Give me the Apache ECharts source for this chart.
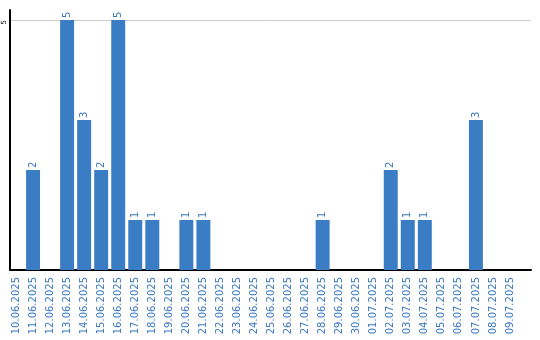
<!DOCTYPE html>
<html><head><meta charset="utf-8">
<script src="https://cdn.jsdelivr.net/npm/echarts@6/dist/echarts.min.js"></script>
<style>html,body{margin:0;padding:0;background:#fff}#c{width:540px;height:340px}</style>
</head><body><div id="c"></div>
<script>
const categories = ["10.06.2025","11.06.2025","12.06.2025","13.06.2025","14.06.2025","15.06.2025","16.06.2025","17.06.2025","18.06.2025","19.06.2025","20.06.2025","21.06.2025","22.06.2025","23.06.2025","24.06.2025","25.06.2025","26.06.2025","27.06.2025","28.06.2025","29.06.2025","30.06.2025","01.07.2025","02.07.2025","03.07.2025","04.07.2025","05.07.2025","06.07.2025","07.07.2025","08.07.2025","09.07.2025"];
const values = [0,2,0,5,3,2,5,1,1,0,1,1,0,0,0,0,0,0,1,0,0,0,2,1,1,0,0,3,0,0];
const yTicks = [5];
const yMax = 5.2;

const chart = echarts.init(document.getElementById('c'), null, {renderer:'canvas'});
chart.setOption({
  animation:false,
  grid:[
    {left:7.5,right:21.5,top:10,bottom:70,containLabel:false},
    {left:10,right:9,top:10,bottom:70,containLabel:false}
  ],
  xAxis:[
    {type:'category',data:categories,gridIndex:0,
      axisLine:{show:false},axisTick:{show:false},splitLine:{show:false},
      axisLabel:{rotate:90,interval:0,color:'#3a78c0',fontFamily:'DejaVu Sans',fontSize:10,margin:7}
    },
    {type:'value',gridIndex:1,min:0,max:1,show:true,
      axisLine:{show:true,onZero:false,lineStyle:{color:'#000',width:2}},
      axisTick:{show:false},axisLabel:{show:false},splitLine:{show:false}
    }
  ],
  yAxis:[
    {type:'value',gridIndex:0,min:0,max:yMax,show:false},
    {type:'value',gridIndex:1,min:0,max:yMax,interval:5,
      axisLine:{show:true,lineStyle:{color:'#000',width:2}},
      axisTick:{show:false},
      splitLine:{show:true,showMinLine:false,showMaxLine:false,lineStyle:{color:'#ccc',width:1}},
      axisLabel:{rotate:90,color:'#000',fontFamily:'DejaVu Sans',fontSize:7,margin:2,
        align:'right',verticalAlign:'bottom',
        formatter:v=>yTicks.includes(v)?String(v):''}
    }
  ],
  series:[{type:'bar',data:values,xAxisIndex:0,yAxisIndex:0,barWidth:'82%',
    itemStyle:{color:'#3b7dc4'},z:1,
    label:{show:true,position:'top',rotate:90,align:'left',verticalAlign:'middle',distance:2,
      color:'#3a78c0',fontFamily:'DejaVu Sans',fontSize:10,
      formatter:p=>p.value>0?String(p.value):''}
  }]
});
</script></body></html>
